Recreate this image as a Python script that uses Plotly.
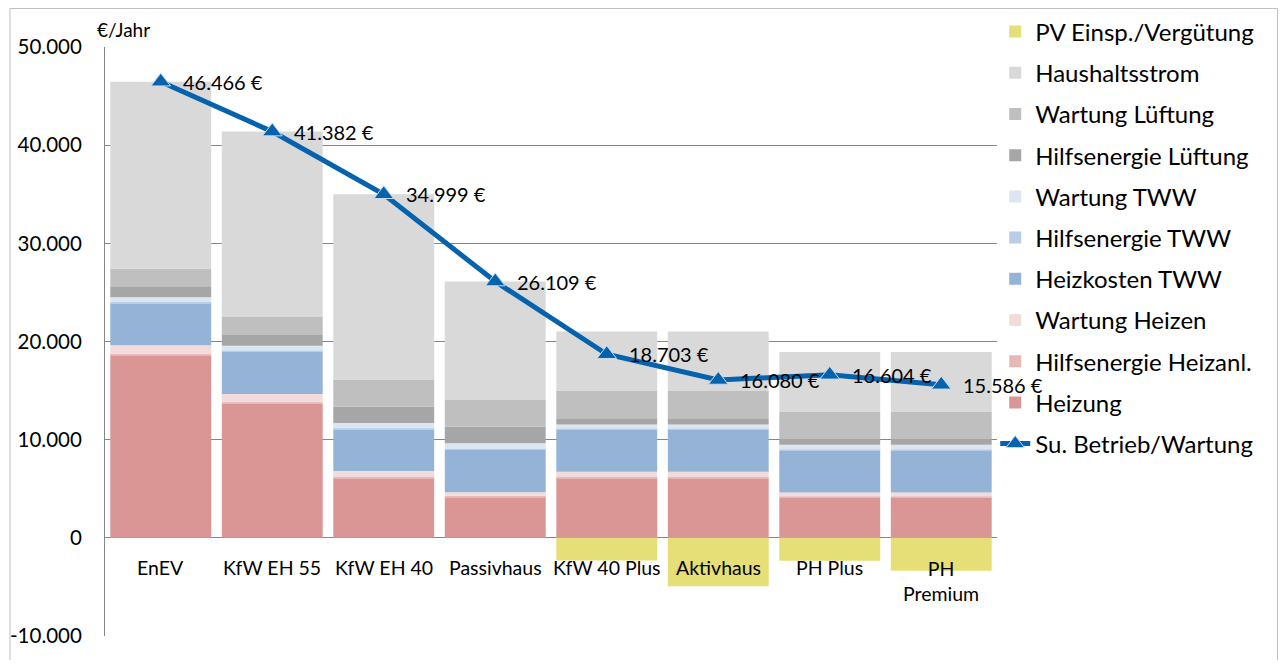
import plotly.graph_objects as go

categories = ["EnEV", "KfW EH 55", "KfW EH 40", "Passivhaus", "KfW 40 Plus", "Aktivhaus", "PH Plus", "PH Premium"]
category_labels = ["EnEV", "KfW EH 55", "KfW EH 40", "Passivhaus", "KfW 40 Plus", "Aktivhaus", "PH Plus", "PH<br>Premium"]

heizung = [18600, 13650, 6050, 4130, 6090, 6090, 4060, 4060]
hilfsenergie_heizanl = [150, 150, 150, 150, 150, 150, 150, 150]
wartung_heizen = [870, 860, 620, 370, 480, 480, 400, 400]
heizkosten_tww = [4300, 4300, 4250, 4310, 4280, 4280, 4280, 4280]
hilfsenergie_tww = [100, 100, 100, 100, 100, 100, 100, 100]
wartung_tww = [500, 500, 540, 580, 440, 440, 480, 480]
hilfsenergie_lueftung = [1100, 1100, 1660, 1690, 650, 650, 610, 610]
wartung_lueftung = [1800, 1840, 2720, 2720, 2780, 2780, 2750, 2750]
haushaltsstrom = [19046, 18882, 18909, 12059, 6040, 6040, 6110, 6110]
pv_verguetung = [0, 0, 0, 0, -2307, -4930, -2336, -3354]
summe_betrieb = [46466, 41382, 34999, 26109, 18703, 16080, 16604, 15586]

ytick_vals = [-10000, 0, 10000, 20000, 30000, 40000, 50000]
ytick_text = ["-10.000", "0", "10.000", "20.000", "30.000", "40.000", "50.000"]

FONT = "Lato"
TXT = "#000000"

series = [
    ("Heizung", heizung, "#D99694", 10),
    ("Hilfsenergie Heizanl.", hilfsenergie_heizanl, "#E6B9B8", 9),
    ("Wartung Heizen", wartung_heizen, "#F2DCDB", 8),
    ("Heizkosten TWW", heizkosten_tww, "#95B3D7", 7),
    ("Hilfsenergie TWW", hilfsenergie_tww, "#B9CDE5", 6),
    ("Wartung TWW", wartung_tww, "#DCE6F2", 5),
    ("Hilfsenergie Lüftung", hilfsenergie_lueftung, "#A6A6A6", 4),
    ("Wartung Lüftung", wartung_lueftung, "#BFBFBF", 3),
    ("Haushaltsstrom", haushaltsstrom, "#D9D9D9", 2),
    ("PV Einsp./Vergütung", pv_verguetung, "#E6DE76", 1),
]

fig = go.Figure()
for name, vals, color, rank in series:
    fig.add_trace(go.Bar(
        x=categories, y=vals, name=name, legendrank=rank, legendgroup=name,
        marker=dict(color=color, line=dict(width=0)),
        hoverinfo="name+y",
    ))

fig.add_trace(go.Scatter(
    x=categories, y=summe_betrieb, name="Su. Betrieb/Wartung", legendrank=11,
    legendgroup="sum", mode="lines+markers",
    line=dict(color="#0563AE", width=5),
    marker=dict(symbol="triangle-up", size=17, color="#0563AE",
                line=dict(color="#C9DAEE", width=1)),
))

annotations = []
for c, v in zip(categories, summe_betrieb):
    annotations.append(dict(
        x=c, y=v, xref="x", yref="y", text=f"{v:,}".replace(",", ".") + " €",
        showarrow=False, xanchor="left", yanchor="middle", xshift=20,
        font=dict(family=FONT, size=20, color=TXT),
    ))
for c, lab in zip(categories, category_labels):
    annotations.append(dict(
        x=c, y=-3070, xref="x", yref="y", text=lab, showarrow=False,
        xanchor="center", yanchor="top" if "<br>" in lab else "middle",
        yshift=13 if "<br>" in lab else 0,
        font=dict(family=FONT, size=19.5, color=TXT),
    ))
annotations.append(dict(
    x=-0.011, y=1.029, xref="paper", yref="paper", text="€/Jahr", showarrow=False,
    xanchor="left", yanchor="middle", font=dict(family=FONT, size=19, color=TXT),
))

# figure sits at (8, 8) in the page because of the default body margin
W, H = 1270, 652
PL, PR, PT, PB = 97, 989, 39, 628  # plot area in figure pixels


def px_x(fx):
    return (fx - PL) / (PR - PL)


def px_y(fy):
    return (PB - fy) / (PB - PT)


fig.update_layout(
    width=W, height=H,
    margin=dict(l=PL, r=W - PR, t=PT, b=H - PB, autoexpand=False),
    paper_bgcolor="white", plot_bgcolor="white",
    barmode="relative", bargap=0.095,
    font=dict(family=FONT, size=20, color=TXT),
    showlegend=True,
    legend=dict(
        x=0.998, xanchor="left", y=1 - 1.5 / H, yanchor="top", yref="container",
        traceorder="grouped", tracegroupgap=7, maxheight=640,
        font=dict(family=FONT, size=24, color=TXT),
        bgcolor="rgba(0,0,0,0)", itemwidth=30,
    ),
    annotations=annotations,
    shapes=[dict(type="rect", xref="paper", yref="paper",
                 x0=px_x(2), x1=px_x(1269.5), y0=px_y(680), y1=px_y(0.5),
                 line=dict(color="#BFBFBF", width=1), fillcolor="rgba(0,0,0,0)",
                 layer="below")],
)
fig.update_xaxes(range=[-0.5, len(categories) - 0.5], autorange=False,
                 showticklabels=False, showgrid=False, zeroline=False, showline=False,
                 ticks="")
fig.update_yaxes(range=[-10000, 50000], tickvals=ytick_vals, ticktext=ytick_text,
                 showgrid=True, gridcolor="#868686", gridwidth=1,
                 zeroline=True, zerolinecolor="#868686", zerolinewidth=1,
                 showline=True, linecolor="#868686", linewidth=1,
                 ticks="", ticklabelstandoff=18, automargin=False,
                 tickfont=dict(family=FONT, size=20.5, color=TXT))

fig.write_html("out.html")
